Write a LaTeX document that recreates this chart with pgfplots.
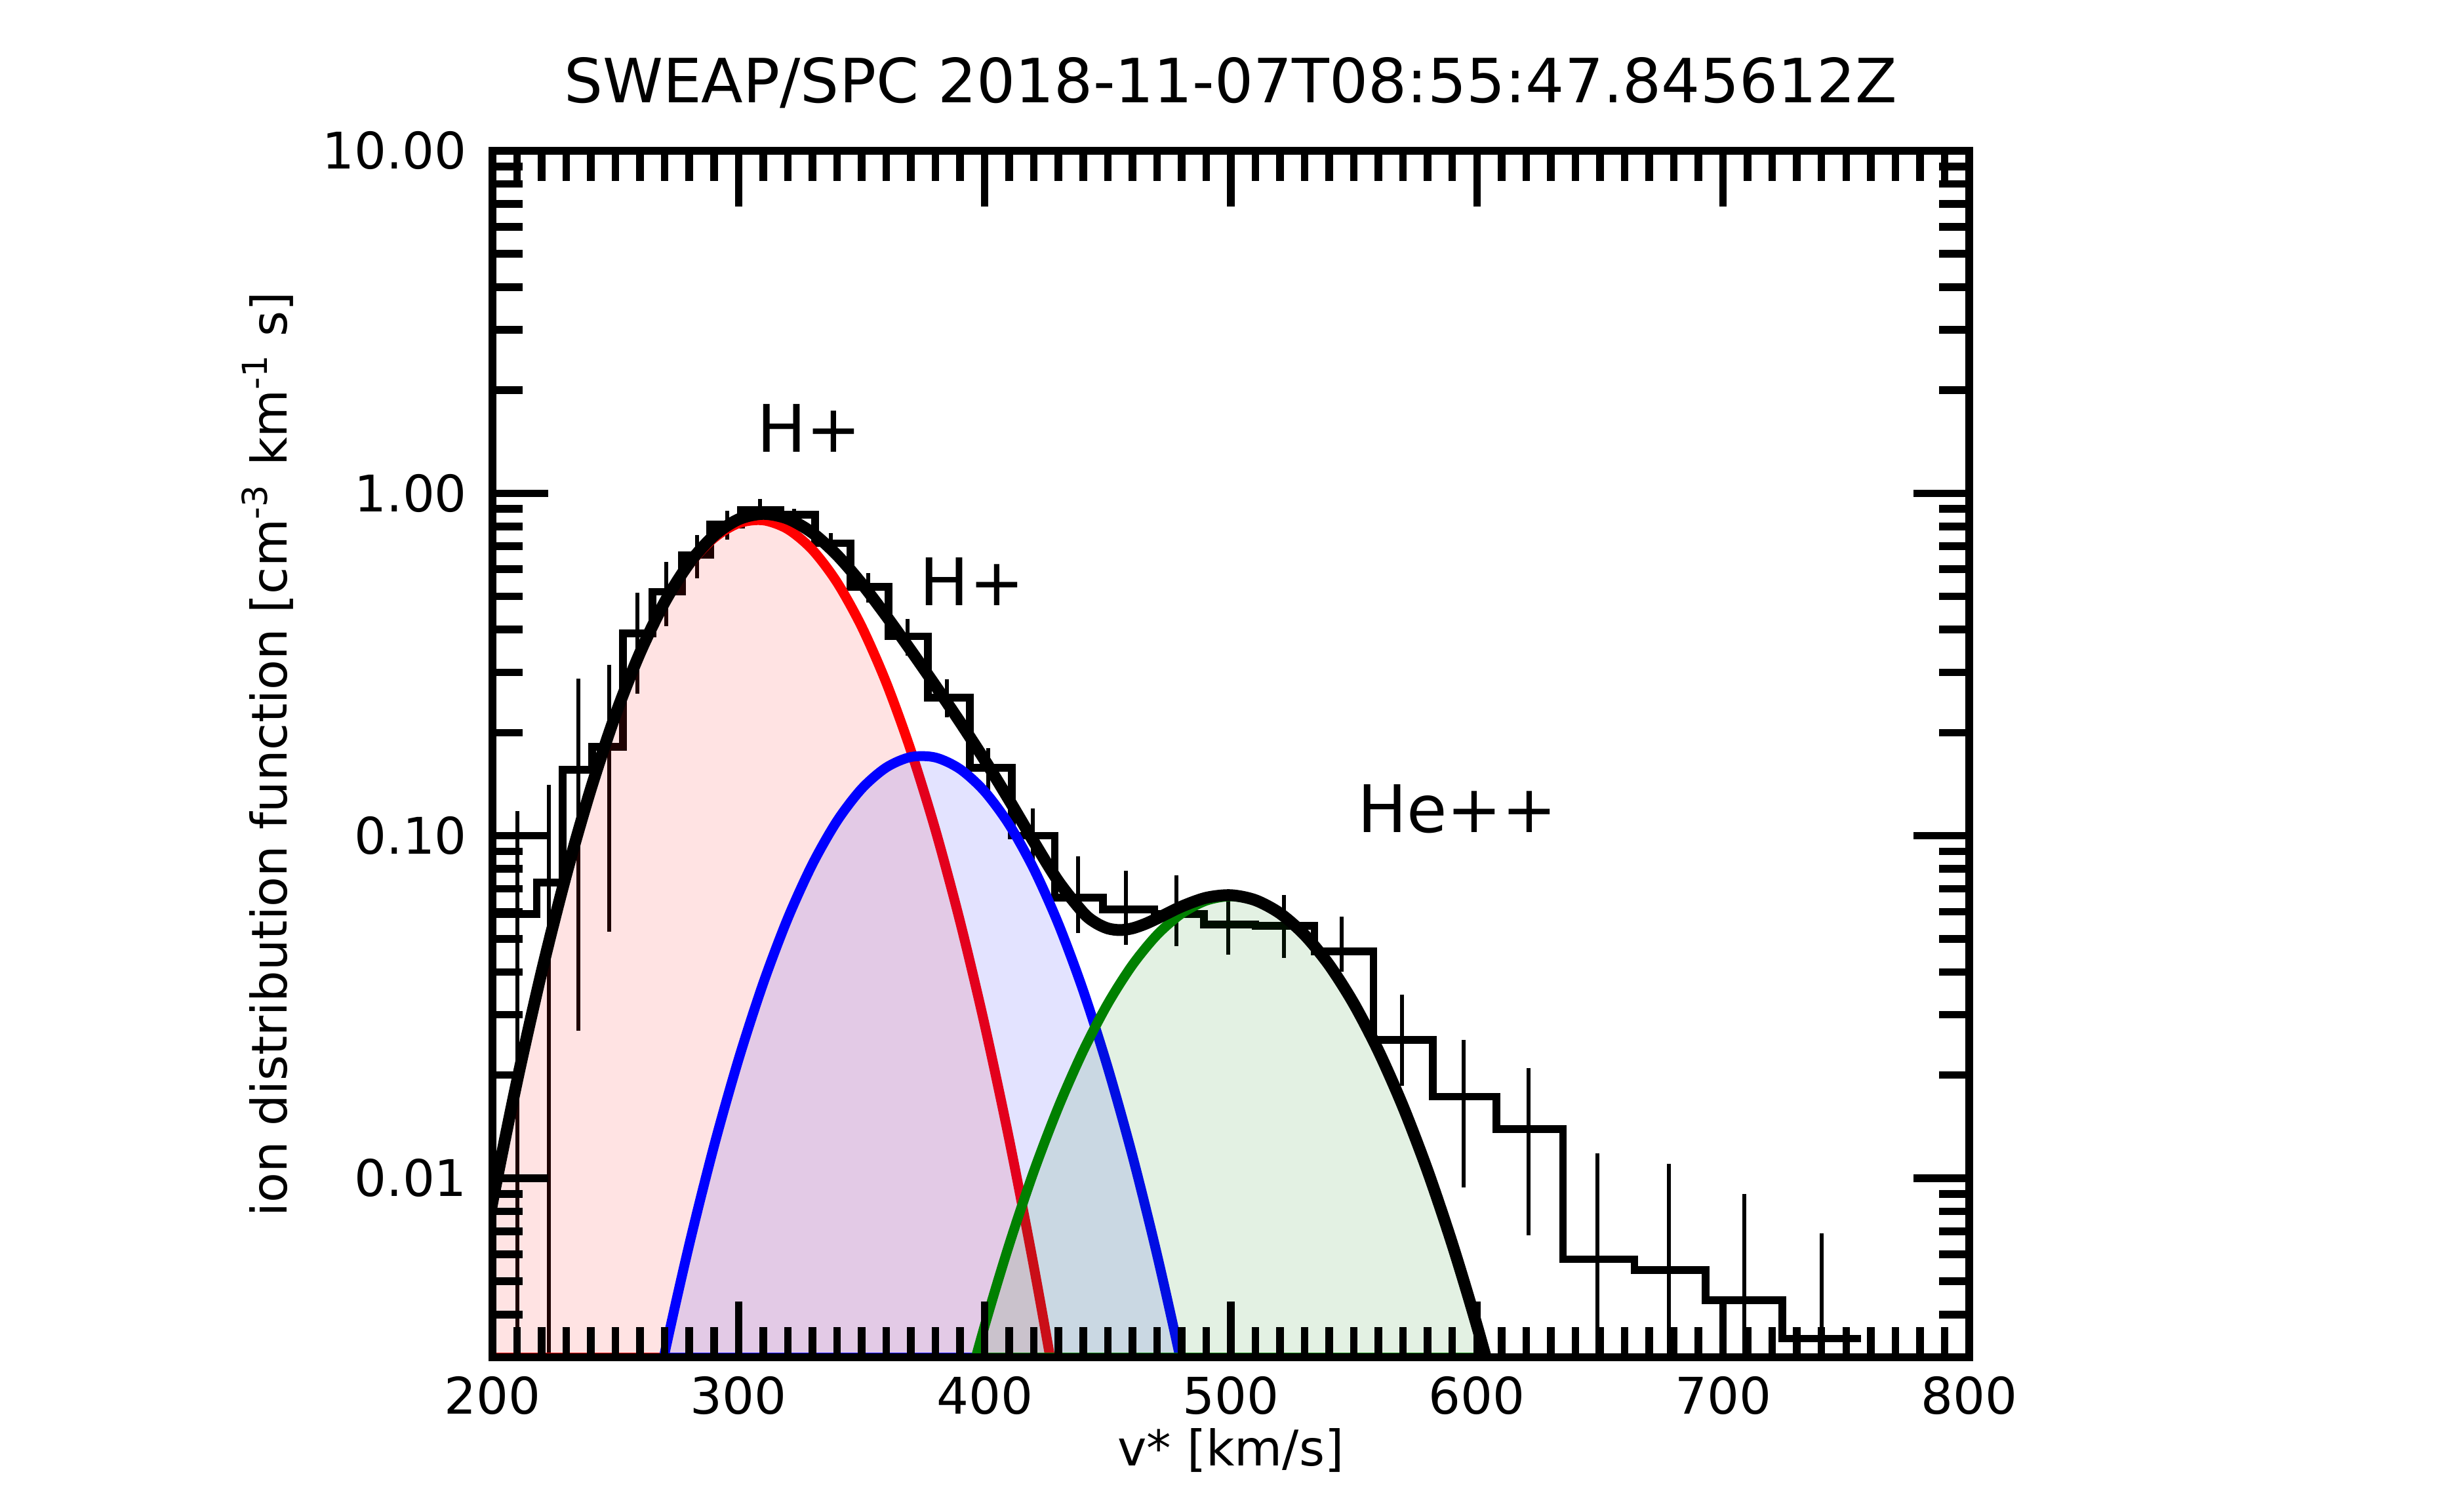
\documentclass[border=0pt]{standalone}
\usepackage{fontspec}
\setmainfont{DejaVu Sans}
\usepackage{pgfplots}
\pgfplotsset{compat=1.18}
\definecolor{mplgreen}{RGB}{0,128,0}
\begin{document}
\begin{tikzpicture}
\useasboundingbox (-75.1pt,-23.6pt) rectangle (300.5pt,207.0pt);
\begin{axis}[
  at={(0pt,0pt)}, anchor=south west,
  scale only axis, width=225.2pt, height=184pt,
  xmin=200, xmax=800, ymode=log, ymin=0.003, ymax=10,
  xtick={200,300,400,500,600,700,800},
  xticklabels={200,300,400,500,600,700,800},
  minor x tick num=9,
  ytick={0.01,0.1,1,10}, yticklabels={0.01,0.10,1.00,10.00},
  minor ytick={0.004,0.005,0.006,0.007,0.008,0.009,0.02,0.03,0.04,0.05,0.06,0.07,0.08,0.09,0.2,0.3,0.4,0.5,0.6,0.7,0.8,0.9,2,3,4,5,6,7,8,9},
  tick align=inside, tick pos=both,
  major tick length=8.5pt, minor tick length=4.6pt,
  every tick/.style={black, line width=1.15pt},
  axis line style={line width=1.2pt},
  axis on top,
  ticklabel style={font=\fontsize{7.7}{9}\selectfont},
  xticklabel style={anchor=base, yshift=-8.6pt},
  yticklabel style={anchor=east, inner sep=0pt, xshift=-3.7pt},
  title={SWEAP/SPC 2018-11-07T08:55:47.845612Z},
  every axis title/.style={font=\fontsize{9.3}{11}\selectfont, at={(axis description cs:0.5,1)}, anchor=base, yshift=7.33pt},
  xlabel={v* [km/s]},
  xlabel style={font=\fontsize{7.5}{9}\selectfont, at={(axis description cs:0.5,0)}, anchor=base, yshift=-16.5pt},
  ylabel={ion distribution function [cm\textsuperscript{-3} km\textsuperscript{-1} s]},
  ylabel style={font=\fontsize{7.5}{9}\selectfont, at={(axis description cs:-0.139,0.5)}, anchor=base},
]
% histogram (measured)
\addplot[black, line width=1.17pt, const plot mark left] coordinates {
(200,0.059) (218,0.073) (228.5,0.156) (240.5,0.182) (253,0.39) (265,0.516)
(277,0.66) (288.5,0.81) (301,0.893) (317,0.865) (331,0.715) (345.5,0.533)
(361,0.382) (377,0.253) (394,0.158) (411,0.100) (428.5,0.066) (448,0.061)
(469,0.059) (489,0.055) (510,0.0545) (534,0.046) (558,0.0253) (582,0.0173)
(608,0.0139) (635,0.0058) (664,0.0054) (693,0.0044) (724,0.0034) (756,0.0034)};
% error bars
\addplot[black, line width=0.6pt, unbounded coords=jump] coordinates {
(210,0.118) (210,0.0001) (210,nan)
(223,0.141) (223,0.0001) (223,nan)
(235,0.287) (235,0.027) (235,nan)
(247.5,0.316) (247.5,0.0525) (247.5,nan)
(259,0.512) (259,0.26) (259,nan)
(270.5,0.63) (270.5,0.41) (270.5,nan)
(283,0.755) (283,0.565) (283,nan)
(295.3,0.887) (295.3,0.733) (295.3,nan)
(308.7,0.962) (308.7,0.83) (308.7,nan)
(322.5,0.90) (322.5,0.83) (322.5,nan)
(337.5,0.765) (337.5,0.665) (337.5,nan)
(352.8,0.585) (352.8,0.48) (352.8,nan)
(368.6,0.43) (368.6,0.335) (368.6,nan)
(384.7,0.286) (384.7,0.222) (384.7,nan)
(401.5,0.18) (401.5,0.136) (401.5,nan)
(419.5,0.12) (419.5,0.082) (419.5,nan)
(438,0.087) (438,0.052) (438,nan)
(457.5,0.079) (457.5,0.048) (457.5,nan)
(478,0.0766) (478,0.0477) (478,nan)
(499,0.0675) (499,0.045) (499,nan)
(521.5,0.067) (521.5,0.044) (521.5,nan)
(545,0.058) (545,0.040) (545,nan)
(569.5,0.0344) (569.5,0.0186) (569.5,nan)
(594.5,0.0253) (594.5,0.0094) (594.5,nan)
(621,0.021) (621,0.0068) (621,nan)
(649,0.0118) (649,0.0001) (649,nan)
(678,0.011) (678,0.0001) (678,nan)
(708.5,0.009) (708.5,0.0001) (708.5,nan)
(740,0.0069) (740,0.0001)};
% H+ core (red)
\addplot[draw=none, fill=red, fill opacity=0.11] coordinates {
(190,0.003) (190,0.00349) (200,0.008518) (210,0.01922) (220,0.04004) (230,0.07706)
(240,0.1370) (250,0.2250) (260,0.3413) (270,0.4782) (280,0.6189) (290,0.7399)
(300,0.8172) (310,0.8335) (320,0.7853) (330,0.6836) (340,0.5495) (350,0.4080)
(360,0.2799) (370,0.1773) (380,0.1038) (390,0.0561) (400,0.02802) (410,0.01292)
(420,0.005506) (426.6,0.003)};
\addplot[red, line width=1.5pt] coordinates {(190,0.003) (426.6,0.003)};
\addplot[red, line width=1.5pt, smooth] coordinates {
(190,0.00349) (200,0.008518) (210,0.01922) (220,0.04004) (230,0.07706)
(240,0.1370) (250,0.2250) (260,0.3413) (270,0.4782) (280,0.6189) (290,0.7399)
(300,0.8172) (310,0.8335) (320,0.7853) (330,0.6836) (340,0.5495) (350,0.4080)
(360,0.2799) (370,0.1773) (380,0.1038) (390,0.0561) (400,0.02802) (410,0.01292)
(420,0.005506) (430,0.002167) (440,0.000788)};
% H+ beam (blue)
\addplot[draw=none, fill=blue, fill opacity=0.11] coordinates {
(269.6,0.003) (270,0.00309) (280,0.006422) (290,0.0124) (300,0.02224) (310,0.03707)
(320,0.05741) (330,0.08258) (340,0.1104) (350,0.1371) (360,0.1582) (370,0.1698)
(380,0.1692) (390,0.1565) (400,0.1346) (410,0.1076) (420,0.0799) (430,0.05514)
(440,0.03534) (450,0.02104) (460,0.01165) (470,0.00599) (479.4,0.003)};
\addplot[blue, line width=1.5pt] coordinates {(269.6,0.003) (479.4,0.003)};
\addplot[blue, line width=1.5pt, smooth] coordinates {
(250,0.000574) (260,0.001382) (270,0.00309) (280,0.006422) (290,0.0124) (300,0.02224)
(310,0.03707) (320,0.05741) (330,0.08258) (340,0.1104) (350,0.1371) (360,0.1582)
(370,0.1698) (380,0.1692) (390,0.1565) (400,0.1346) (410,0.1076) (420,0.0799)
(430,0.05514) (440,0.03534) (450,0.02104) (460,0.01165) (470,0.00599) (480,0.002861)
(490,0.00127) (500,0.000524)};
% He++ (green)
\addplot[draw=none, fill=mplgreen, fill opacity=0.11] coordinates {
(396.4,0.003) (400,0.003709) (410,0.006418) (420,0.01049) (430,0.01617) (440,0.02352)
(450,0.03232) (460,0.04192) (470,0.05131) (480,0.05926) (490,0.06463) (500,0.06653)
(510,0.06463) (520,0.05926) (530,0.05131) (540,0.04192) (550,0.03232) (560,0.02352)
(570,0.01617) (580,0.01049) (590,0.006418) (600,0.003709) (603.6,0.003)};
\addplot[mplgreen, line width=1.5pt] coordinates {(396.4,0.003) (603.6,0.003)};
\addplot[mplgreen, line width=1.5pt, smooth] coordinates {
(380,0.001041) (390,0.002022) (400,0.003709) (410,0.006418) (420,0.01049) (430,0.01617)
(440,0.02352) (450,0.03232) (460,0.04192) (470,0.05131) (480,0.05926) (490,0.06463)
(500,0.06653) (510,0.06463) (520,0.05926) (530,0.05131) (540,0.04192) (550,0.03232)
(560,0.02352) (570,0.01617) (580,0.01049) (590,0.006418) (600,0.003709) (610,0.002022)
(620,0.001041)};
% total (black)
\addplot[black, line width=1.8pt, smooth] coordinates {
(190,0.00349) (200,0.00852) (210,0.01923) (220,0.04007) (230,0.07714) (240,0.1372)
(250,0.2256) (260,0.3427) (270,0.4813) (280,0.6253) (290,0.7523) (300,0.8394)
(310,0.8706) (320,0.8427) (330,0.7662) (340,0.6599) (350,0.5451) (360,0.4381)
(370,0.3476) (380,0.2740) (390,0.2146) (400,0.1663) (410,0.1269) (420,0.0959)
(430,0.07348) (440,0.05965) (445,0.05576) (450,0.05363) (455,0.05303) (460,0.05365)
(465,0.05519) (470,0.0573) (480,0.06212) (490,0.0659) (500,0.06705) (510,0.06483)
(520,0.05933) (530,0.05131) (540,0.04192) (550,0.03232) (560,0.02352) (570,0.01617)
(580,0.01049) (590,0.006418) (600,0.003709) (610,0.002022) (620,0.001041)};
\node[font=\fontsize{10}{12}\selectfont] at (axis cs:328.7,1.55) {H+};
\node[font=\fontsize{10}{12}\selectfont] at (axis cs:394.9,0.552) {H+};
\node[font=\fontsize{10}{12}\selectfont] at (axis cs:592,0.1197) {He++};
\end{axis}
\end{tikzpicture}
\end{document}
